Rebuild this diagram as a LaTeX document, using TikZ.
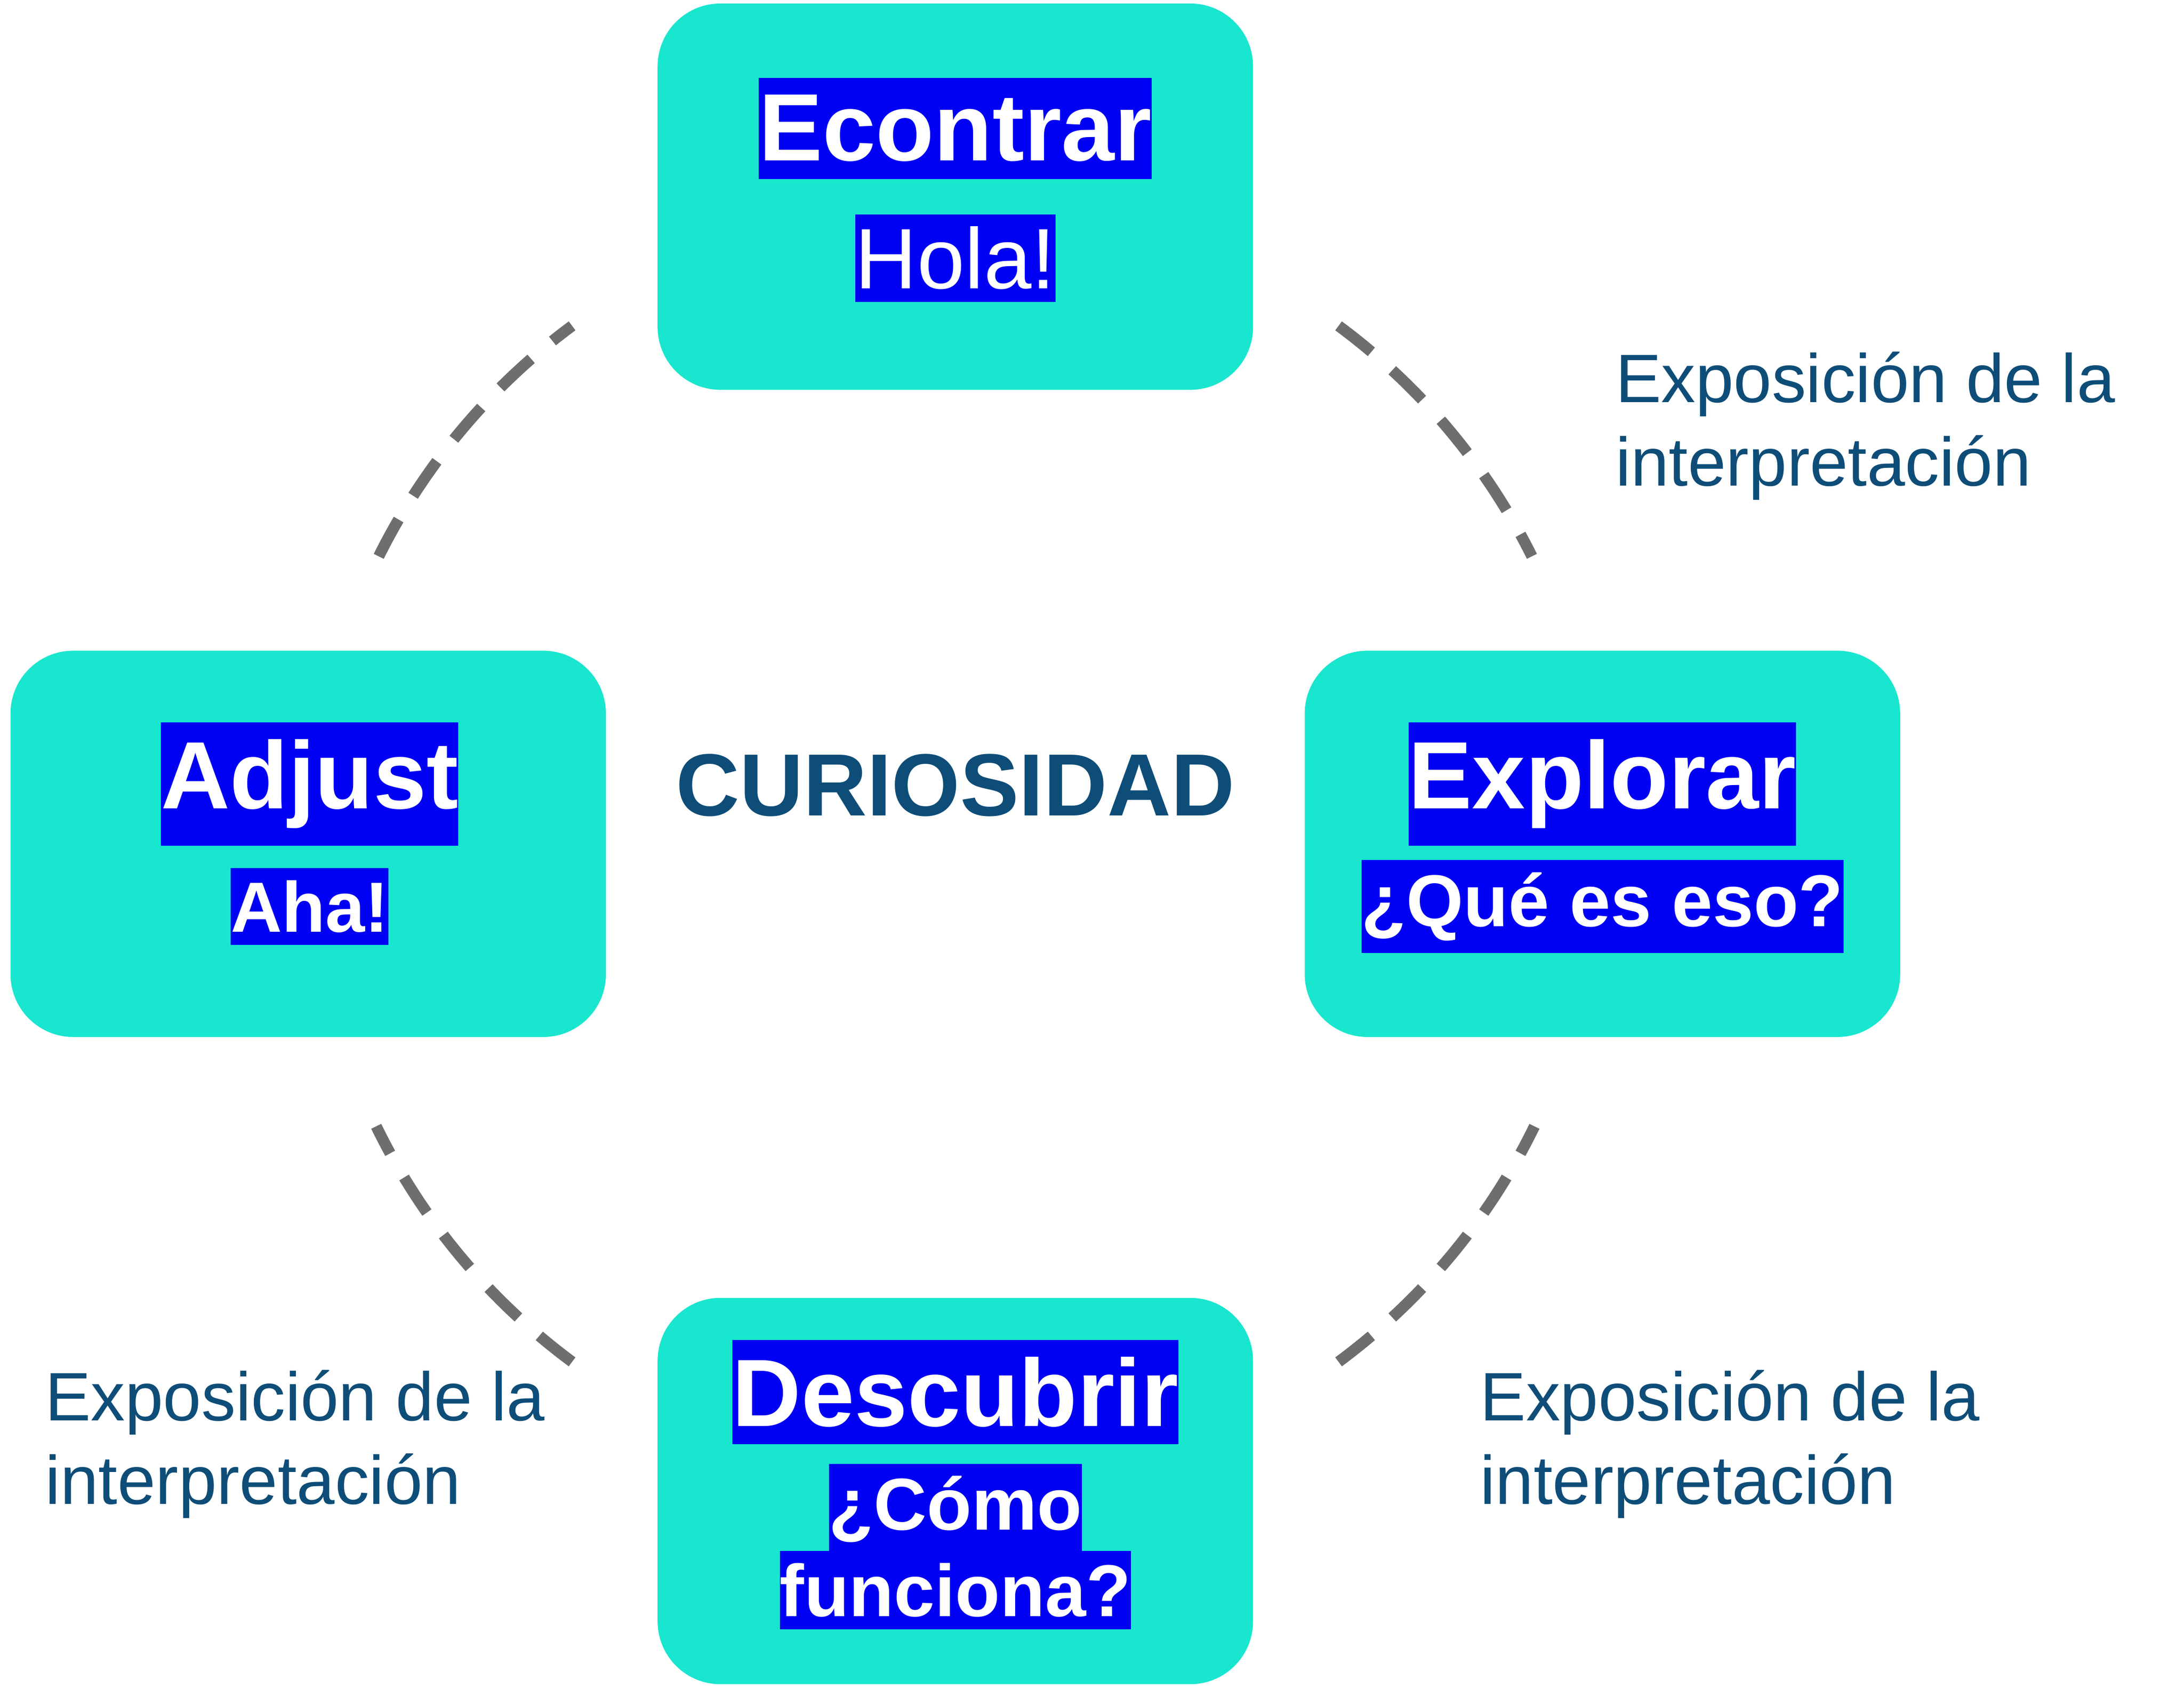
\documentclass[tikz,border=0pt]{standalone}
\usepackage{fontspec}
\setmainfont{Liberation Sans}
\definecolor{tealbox}{HTML}{19E6CF}
\definecolor{hiblue}{HTML}{0000F5}
\definecolor{navy}{HTML}{0E4D78}
\tikzset{
  stage/.style={fill=tealbox, rounded corners=0.9cm, minimum width=8.54cm, minimum height=5.54cm},
  head/.style={fill=hiblue, text=white, font=\bfseries\fontsize{39}{42}\selectfont, inner xsep=0pt, inner ysep=7pt},
  sub/.style={fill=hiblue, text=white, inner xsep=0pt, inner ysep=5pt},
  note/.style={text=navy, align=left, anchor=north west, font=\fontsize{28}{34}\selectfont, inner sep=0pt},
  link/.style={draw=black!57, line width=0.16cm, dash pattern=on 0.6cm off 0.4cm}
}
\begin{document}
\begin{tikzpicture}[x=0.02cm, y=-0.02cm]
    \useasboundingbox (0,0) rectangle (1566,1210);

    \node[stage] at (685, 141)  (top)    {};
    \node[stage] at (1149, 605) (right)  {};
    \node[stage] at (221, 605)  (left)   {};
    \node[stage] at (685, 1069) (bottom) {};

    \node[head] at (685, 92)  (encontrar) {Econtrar};
    \node[sub, font=\fontsize{35}{38}\selectfont] at (685, 185) (hola) {Hola!};
    \node[head] at (1149, 562) (explorar) {Explorar};
    \node[sub, font=\bfseries\fontsize{30}{34}\selectfont] at (1149, 650) (que) {¿Qué es eso?};
    \node[head] at (222, 562) (adjust) {Adjust};
    \node[sub, font=\bfseries\fontsize{29}{32}\selectfont] at (222, 650) (aha) {Aha!};
    \node[head] at (685, 998) (descubrir) {Descubrir};
    \node[sub, font=\bfseries\fontsize{30}{34}\selectfont] at (685, 1082) (como) {¿Cómo };
    \node[sub, font=\bfseries\fontsize{30}{34}\selectfont] at (685, 1140) (funciona) {funciona?};

    \node[text=navy, font=\bfseries\fontsize{36}{40}\selectfont] at (685, 563) (curiosidad) {CURIOSIDAD};

    \node[note] at (1158, 252) (noteA) {Exposición de la\\interpretación};
    \node[note] at (32, 982)   (noteB) {Exposición de la\\interpretación};
    \node[note] at (1061, 982) (noteC) {Exposición de la\\interpretación};

    % dashed ring between the stages
    \draw[link] (685,605) ++(53.5:462) arc[start angle=53.5, end angle=26, radius=462];
    \draw[link] (685,605) ++(126.5:462) arc[start angle=126.5, end angle=154, radius=462];
    \draw[link] (685,605) ++(-153.5:462) arc[start angle=-153.5, end angle=-126.5, radius=462];
    \draw[link] (685,605) ++(-53.5:462) arc[start angle=-53.5, end angle=-26.5, radius=462];
\end{tikzpicture}
\end{document}
